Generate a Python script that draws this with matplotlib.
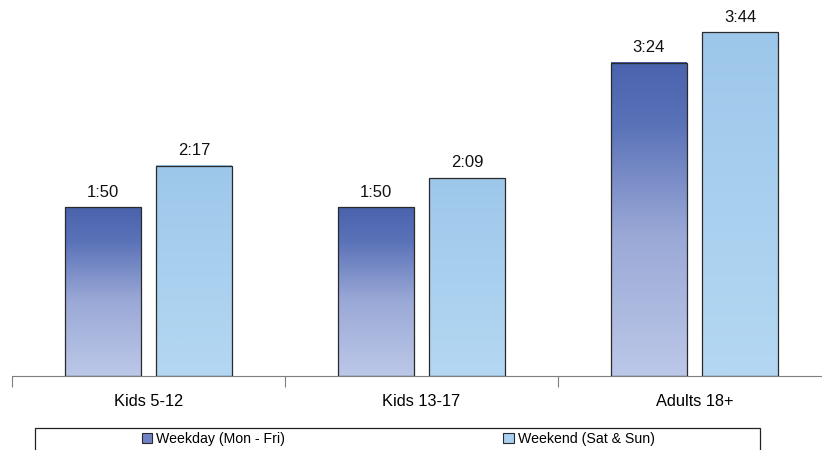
import matplotlib
matplotlib.use("Agg")
import matplotlib.pyplot as plt
import matplotlib.colors as mcolors
from matplotlib.patches import Rectangle
import numpy as np

plt.rcParams["font.family"] = ["Liberation Sans", "DejaVu Sans"]

# ── data (minutes per day) ──────────────────────────────────────────────────
groups = ["Kids 5-12", "Kids 13-17", "Adults 18+"]
weekday_min = [110, 110, 204]
weekend_min = [137, 129, 224]
series_names = ["Weekday (Mon - Fri)", "Weekend (Sat & Sun)"]

WEEKDAY_CMAP = mcolors.LinearSegmentedColormap.from_list(
    "weekday", [(0.0, "#bcc8e8"), (0.45, "#9aa8d6"), (0.8, "#5a72b8"), (1.0, "#4a63ad")])
WEEKEND_CMAP = mcolors.LinearSegmentedColormap.from_list(
    "weekend", [(0.0, "#b4d8f3"), (1.0, "#9dc7ea")])
EDGE = "#2a2a2a"

BAR_W = 0.278
OFFSET = 0.167


def hmm(minutes):
    return f"{minutes // 60}:{minutes % 60:02d}"


def gradient_bar(ax, x, h, cmap):
    grad = np.linspace(0, 1, 256).reshape(-1, 1)
    ax.imshow(grad, cmap=cmap, origin="lower", aspect="auto",
              extent=(x - BAR_W / 2, x + BAR_W / 2, 0, h), zorder=2,
              interpolation="bilinear")
    ax.add_patch(Rectangle((x - BAR_W / 2, 0), BAR_W, h, fill=False,
                           edgecolor=EDGE, lw=0.9, zorder=3))
    ax.text(x, h + 5, hmm(h), ha="center", va="bottom", fontsize=12,
            color="#111111", zorder=4)


fig = plt.figure(figsize=(8.22, 4.5), dpi=100)
ax = fig.add_axes([12 / 822, 1 - 376 / 450, 819 / 822, 376 / 450])

xs = np.arange(len(groups))
for x, wd, we in zip(xs, weekday_min, weekend_min):
    gradient_bar(ax, x - OFFSET, wd, WEEKDAY_CMAP)
    gradient_bar(ax, x + OFFSET, we, WEEKEND_CMAP)

ax.set_xlim(-0.5, len(groups) - 0.5)
ax.set_ylim(0, 245)
for s in ("top", "right", "left"):
    ax.spines[s].set_visible(False)
ax.spines["bottom"].set_color("#7f7f7f")
ax.set_yticks([])

# category labels sit between boundary ticks
ax.set_xticks(np.arange(-0.5, len(groups)), minor=False)
ax.tick_params(axis="x", which="major", length=8, color="#7f7f7f",
               labelbottom=False)
ax.set_xticks(xs, minor=True)
ax.set_xticklabels(groups, minor=True, fontsize=11.8)
ax.tick_params(axis="x", which="minor", length=0, pad=13)

# legend with its own frame box
fig.patches.append(Rectangle((35 / 822, -0.01), 725 / 822, 22 / 450 + 0.01,
                             transform=fig.transFigure, fill=False,
                             edgecolor="#222222", lw=0.9))
handles = [
    Rectangle((0, 0), 1, 1, facecolor="#6f82c4", edgecolor=EDGE, lw=0.8),
    Rectangle((0, 0), 1, 1, facecolor="#a8d0f0", edgecolor=EDGE, lw=0.8),
]
fig.legend(handles, series_names, loc="center", ncol=2, frameon=False,
           bbox_to_anchor=(398 / 822, 1 - 439 / 450), fontsize=10.2,
           handlelength=0.75, handleheight=0.75, handletextpad=0.25,
           columnspacing=15.45)

fig.savefig("out.png", dpi=100)
